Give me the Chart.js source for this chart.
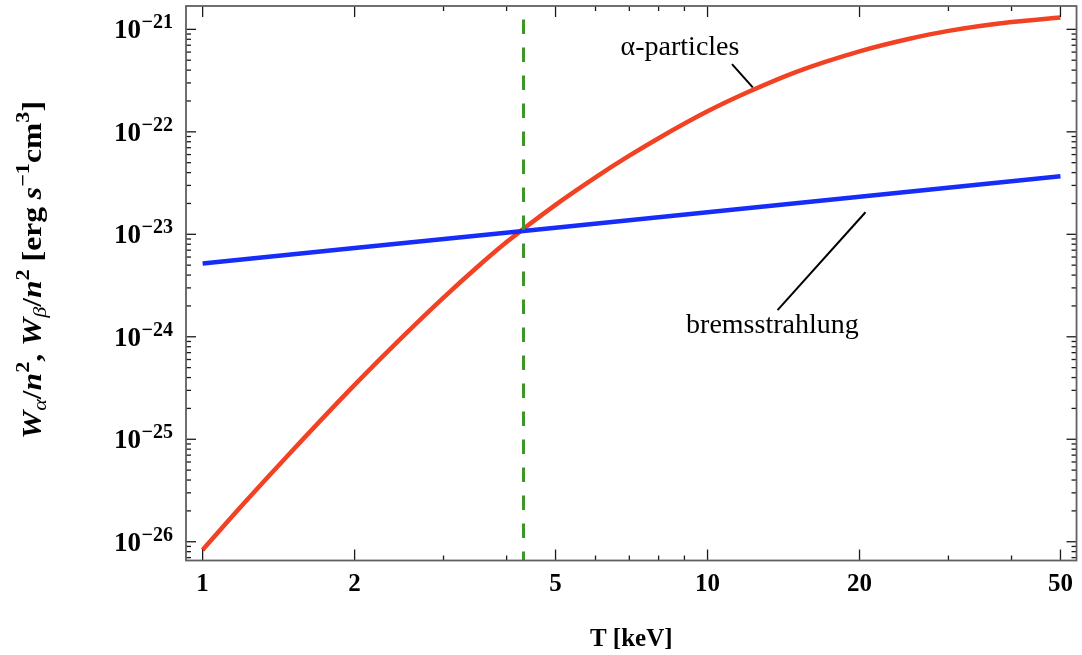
<!DOCTYPE html>
<html><head><meta charset="utf-8">
<script src="https://cdn.jsdelivr.net/npm/chart.js@4.4.0/dist/chart.umd.min.js"></script>
<style>html,body{margin:0;padding:0;background:#fff;overflow:hidden}#wrap{width:1082px;height:655px}</style>
</head><body><div id="wrap"><canvas id="c" width="1082" height="655"></canvas></div>
<script>
// ---- data ----
const alphaT = [1, 1.2, 1.5, 2, 2.5, 3, 3.5, 4, 5, 6, 7, 8, 10, 12, 15, 20, 25, 30, 40, 50];
const alphaW = [8.32e-27, 2.29e-26, 7.59e-26, 3.39e-25, 1.02e-24, 2.41e-24, 4.79e-24, 8.39e-24, 1.94e-23, 3.60e-23, 5.85e-23, 8.67e-23, 1.585e-22, 2.43e-22, 3.85e-22, 6.10e-22, 8.05e-22, 9.66e-22, 1.18e-21, 1.306e-21];
const bremsT = [1, 2, 5, 10, 20, 50];
const bremsW = [5.2e-24, 7.35e-24, 1.16e-23, 1.64e-23, 2.33e-23, 3.68e-23];
const crossT = [4.32, 4.32];
const xTickValues = [1, 2, 3, 4, 5, 6, 7, 8, 9, 10, 20, 30, 40, 50];
const xTickLabels = ['1', '2', '', '', '5', '', '', '', '', '10', '20', '', '', '50'];
const yDecades = [-26, -25, -24, -23, -22, -21];
const xRange = [0.927, 53.8];
const yRange = [6.56e-27, 1.69e-21];

const SERIF = '"Liberation Serif", "Times New Roman", serif';

const annotations = {
  alphaText: {text: 'α-particles', T: 8.82, W: 5.6e-22},
  alphaLeader: [[11.18, 4.58e-22], [12.29, 2.72e-22]],
  bremsText: {text: 'bremsstrahlung', T: 13.44, W: 1.09e-24},
  bremsLeader: [[20.55, 1.64e-23], [13.76, 1.82e-24]]
};

const framePlugin = {
  id: 'frame',
  afterDatasetsDraw(chart) {
    const ctx = chart.ctx, a = chart.chartArea, xs = chart.scales.x, ys = chart.scales.y;
    ctx.save();
    ctx.strokeStyle = '#1a1a1a';
    ctx.lineWidth = 1.3;
    const seg = (x1, y1, x2, y2) => { ctx.beginPath(); ctx.moveTo(x1, y1); ctx.lineTo(x2, y2); ctx.stroke(); };
    xTickValues.forEach((v, i) => {
      const px = xs.getPixelForValue(v);
      const L = xTickLabels[i] ? 11 : 5;
      seg(px, a.bottom, px, a.bottom - L);
      seg(px, a.top, px, a.top + L);
    });
    for (let e = -27; e <= -21; e++) {
      for (let m = 1; m <= 9; m++) {
        const v = m * Math.pow(10, e);
        if (v < yRange[0] || v > yRange[1]) continue;
        const py = ys.getPixelForValue(v);
        const L = m === 1 ? 10 : 5;
        seg(a.left, py, a.left + L, py);
        seg(a.right, py, a.right - L, py);
      }
    }
    ctx.strokeStyle = '#606060';
    ctx.lineWidth = 1.8;
    ctx.strokeRect(a.left, a.top, a.right - a.left, a.bottom - a.top);

    // y tick labels 10^e
    ctx.fillStyle = '#000';
    ctx.textBaseline = 'alphabetic';
    const rightEdge = 173;
    yDecades.forEach(e => {
      const py = ys.getPixelForValue(Math.pow(10, e));
      const sup = '\u2212' + Math.abs(e);
      ctx.font = 'bold 20px ' + SERIF;
      const sw = ctx.measureText(sup).width;
      ctx.textAlign = 'left';
      ctx.fillText(sup, rightEdge - sw, py - 1);
      ctx.font = 'bold 27px ' + SERIF;
      ctx.textAlign = 'right';
      ctx.fillText('10', rightEdge - sw - 0.5, py + 9);
    });

    // y axis title (rotated)
    const B = 27, S = 19;
    const parts = [
      ['W', 'italic bold ' + B, 0], ['α', 'italic ' + S, 5], ['/', 'bold ' + B, 0], ['n', 'italic bold ' + B, 0], ['2', 'bold ' + S, -12],
      [', ', 'bold ' + B, 0],
      ['W', 'italic bold ' + B, 0], ['β', 'italic ' + S, 5], ['/', 'bold ' + B, 0], ['n', 'italic bold ' + B, 0], ['2', 'bold ' + S, -12],
      [' [erg ', 'bold ' + B, 0], ['s', 'italic bold ' + B, 0], ['\u22121', 'bold ' + S, -12], ['cm', 'bold ' + B, 0], ['3', 'bold ' + S, -12], [']', 'bold ' + B, 0]
    ];
    let total = 0;
    parts.forEach(p => { ctx.font = p[1] + 'px ' + SERIF; p.push(ctx.measureText(p[0]).width); total += p[3]; });
    ctx.translate(41, 270);
    ctx.rotate(-Math.PI / 2);
    ctx.scale(1.17, 1);
    ctx.textAlign = 'left';
    let cx = -total / 2;
    parts.forEach(p => { ctx.font = p[1] + 'px ' + SERIF; ctx.fillText(p[0], cx, p[2]); cx += p[3]; });
    ctx.setTransform(1, 0, 0, 1, 0, 0);

    // annotations
    ctx.font = '28px ' + SERIF;
    ctx.textAlign = 'center';
    [annotations.alphaText, annotations.bremsText].forEach(t => {
      ctx.fillText(t.text, xs.getPixelForValue(t.T), ys.getPixelForValue(t.W));
    });
    ctx.strokeStyle = '#000';
    ctx.lineWidth = 2;
    [annotations.alphaLeader, annotations.bremsLeader].forEach(l => {
      seg(xs.getPixelForValue(l[0][0]), ys.getPixelForValue(l[0][1]), xs.getPixelForValue(l[1][0]), ys.getPixelForValue(l[1][1]));
    });
    ctx.restore();
  }
};

new Chart(document.getElementById('c'), {
  type: 'line',
  data: {
    datasets: [
      {label: 'T crossing', data: [{x: crossT[0], y: yRange[1]}, {x: crossT[1], y: yRange[0]}],
       borderColor: 'rgb(60,150,40)', borderWidth: 3, borderDash: [14.5, 13.5], borderDashOffset: 14.5,
       pointRadius: 0, order: 0},
      {label: 'bremsstrahlung', data: bremsT.map((t, i) => ({x: t, y: bremsW[i]})),
       borderColor: 'rgb(22,45,250)', borderWidth: 4.5, pointRadius: 0, order: 1},
      {label: 'α-particles', data: alphaT.map((t, i) => ({x: t, y: alphaW[i]})),
       borderColor: 'rgb(242,66,36)', borderWidth: 4.5, pointRadius: 0, cubicInterpolationMode: 'monotone', order: 2}
    ]
  },
  options: {
    responsive: false, animation: false, devicePixelRatio: 1,
    layout: {padding: {top: 6, right: 2, left: 0, bottom: 0}},
    plugins: {legend: {display: false}, tooltip: {enabled: false}},
    scales: {
      x: {
        type: 'logarithmic', min: xRange[0], max: xRange[1],
        grid: {display: false, drawTicks: false}, border: {display: false},
        afterBuildTicks: s => { s.ticks = xTickValues.map(v => ({value: v})); },
        afterFit: s => { s.height = 94.5; },
        ticks: {autoSkip: false, maxRotation: 0, minRotation: 0, padding: 9, color: '#000',
                font: {family: SERIF, size: 25, weight: 'bold'},
                callback: v => { const i = xTickValues.indexOf(v); return i >= 0 ? xTickLabels[i] : ''; }},
        title: {display: true, text: 'T [keV]', color: '#000', font: {family: SERIF, size: 25, weight: 'bold'}, padding: {top: 0, bottom: 0}}
      },
      y: {
        type: 'logarithmic', min: yRange[0], max: yRange[1],
        grid: {display: false}, border: {display: false}, ticks: {display: false},
        afterFit: s => { s.width = 186; }
      }
    }
  },
  plugins: [framePlugin]
});
</script>
</body></html>
